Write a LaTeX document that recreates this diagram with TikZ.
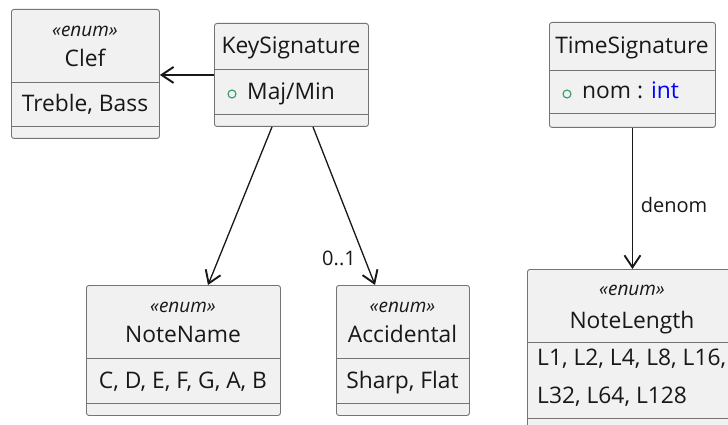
\documentclass[tikz,border=0pt]{standalone}
\usepackage{fontspec}
\setmainfont{Open Sans}
\usetikzlibrary{arrows.meta,calc}

\definecolor{boxfill}{HTML}{F1F1F1}
\definecolor{ink}{HTML}{181818}
\definecolor{pubgreen}{HTML}{2E9E6A}
\definecolor{typeblue}{HTML}{0000FF}

\tikzset{
  classbox/.style={draw=ink!60, line width=0.9pt, fill=boxfill, rounded corners=2.5pt,
    inner sep=0pt, anchor=north west},
  divider/.style={draw=ink!60, line width=0.9pt},
  title/.style={font=\fontsize{22.8}{26}\selectfont, text=ink, inner sep=0pt, anchor=base},
  stereo/.style={font=\itshape\fontsize{19}{22}\selectfont, text=ink, inner sep=0pt, anchor=base},
  member/.style={font=\fontsize{22.8}{26}\selectfont, text=ink, inner sep=0pt, anchor=base},
  memberleft/.style={member, anchor=base west},
  rel/.style={draw=ink, line width=1.3pt, -{Straight Barb[length=12pt,width=16pt,line width=1.9pt]}},
  lbl/.style={font=\fontsize{20}{23}\selectfont, text=ink, inner sep=0pt, anchor=base},
  pub/.style={circle, draw=pubgreen, line width=1.1pt, minimum size=8pt, inner sep=0pt},
}

\begin{document}
\begin{tikzpicture}[x=1pt, y=-1pt]
\clip (0,0) rectangle (728,425);
\fill[white] (0,0) rectangle (728,425);

% ---- Clef ----
\node[classbox, minimum width=148pt, minimum height=129pt] (clef) at (11,9) {};
\draw[divider] ($(clef.north west)+(0,73)$) -- ($(clef.north east)+(0,73)$);
\draw[divider] ($(clef.north west)+(0,117)$) -- ($(clef.north east)+(0,117)$);
\node[stereo] (clefst) at (85,37) {«enum»};
\node[title] (clefname) at (85,67) {Clef};
\node[member] (clefvals) at (85,112) {Treble, Bass};

% ---- KeySignature ----
\node[classbox, minimum width=154pt, minimum height=103pt] (keysig) at (214,23) {};
\draw[divider] ($(keysig.north west)+(0,46)$) -- ($(keysig.north east)+(0,46)$);
\draw[divider] ($(keysig.north west)+(0,91)$) -- ($(keysig.north east)+(0,91)$);
\node[title] (keysigname) at (291,54) {KeySignature};
\node[pub] (keysigvis) at (232,94) {};
\node[memberleft] (keysigattr) at (247,100) {Maj/Min};

% ---- TimeSignature ----
\node[classbox, minimum width=166pt, minimum height=105pt] (timesig) at (549,22) {};
\draw[divider] ($(timesig.north west)+(0,48)$) -- ($(timesig.north east)+(0,48)$);
\draw[divider] ($(timesig.north west)+(0,91)$) -- ($(timesig.north east)+(0,91)$);
\node[title] (timesigname) at (632,54) {TimeSignature};
\node[pub] (timesigvis) at (567,94) {};
\node[memberleft] (timesigattr) at (582,99) {nom : \textcolor{typeblue}{int}};

% ---- NoteName ----
\node[classbox, minimum width=194pt, minimum height=130pt] (notename) at (86,285) {};
\draw[divider] ($(notename.north west)+(0,73)$) -- ($(notename.north east)+(0,73)$);
\draw[divider] ($(notename.north west)+(0,118)$) -- ($(notename.north east)+(0,118)$);
\node[stereo] (notenamest) at (183,312) {«enum»};
\node[title] (notenamename) at (183,342) {NoteName};
\node[member] (notenamevals) at (183,388) {C, D, E, F, G, A, B};

% ---- Accidental ----
\node[classbox, minimum width=133pt, minimum height=130pt] (accidental) at (336,285) {};
\draw[divider] ($(accidental.north west)+(0,73)$) -- ($(accidental.north east)+(0,73)$);
\draw[divider] ($(accidental.north west)+(0,118)$) -- ($(accidental.north east)+(0,118)$);
\node[stereo] (accidentalst) at (402.5,312) {«enum»};
\node[title] (accidentalname) at (402.5,342) {Accidental};
\node[member] (accidentalvals) at (402.5,388) {Sharp, Flat};

% ---- NoteLength ----
\node[classbox, minimum width=210pt, minimum height=175pt] (notelength) at (527,269) {};
\draw[divider] ($(notelength.north west)+(0,73)$) -- ($(notelength.north east)+(0,73)$);
\draw[divider] ($(notelength.north west)+(0,149)$) -- ($(notelength.north east)+(0,149)$);
\node[stereo] (notelengthst) at (632,295) {«enum»};
\node[title] (notelengthname) at (632,328) {NoteLength};
\node[memberleft] (notelengthvals) at (537,365) {L1, L2, L4, L8, L16,};
\node[memberleft] (notelengthvalsb) at (537,403) {L32, L64, L128};

% ---- Relations ----
\draw[rel] (keysig.west) -- (clef.east |- keysig.west);
\draw[rel] ($(keysig.south west)+(58,0)$) -- ($(notename.north west)+(122,0)$);
\draw[rel] ($(keysig.south west)+(99,0)$) -- ($(accidental.north west)+(39,0)$);
\draw[rel] (timesig.south) -- (notelength.north);

\node[lbl] (multacc) at (339,265) {0..1};
\node[lbl] (denomlbl) at (674,212) {denom};
\end{tikzpicture}
\end{document}
